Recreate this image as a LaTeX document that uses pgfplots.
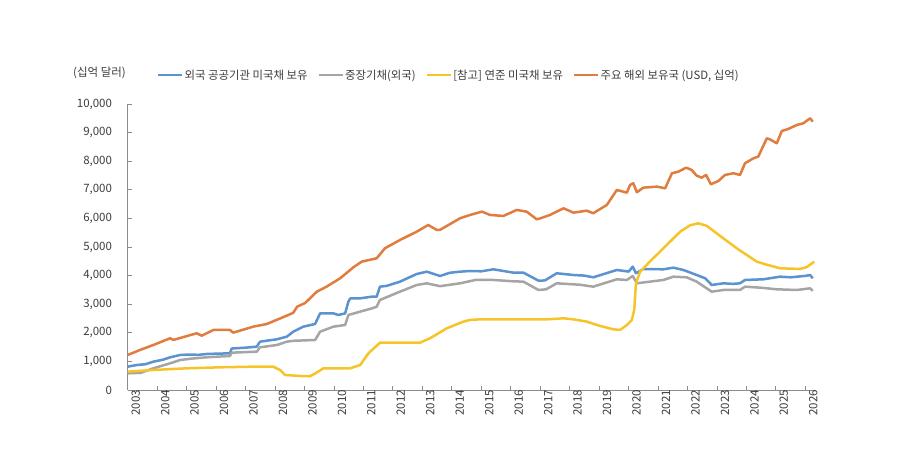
\documentclass[border=0pt]{standalone}
\usepackage{fontspec}
\setmainfont{Noto Sans CJK KR}
\usepackage{pgfplots}
\pgfplotsset{compat=1.18}
\definecolor{cblue}{RGB}{91,146,208}
\definecolor{cgray}{RGB}{165,165,165}
\definecolor{cyellow}{RGB}{245,196,40}
\definecolor{corange}{RGB}{224,125,62}
\definecolor{axisgray}{RGB}{140,140,140}
\definecolor{textgray}{RGB}{60,60,60}
\begin{document}
\begin{tikzpicture}
\useasboundingbox (0,0) rectangle (900pt,470pt);
\node[anchor=west, inner sep=0pt, text=textgray, font=\fontsize{11.5}{13}\selectfont] at (73pt,397pt) {(십억 달러)};
\begin{axis}[
  at={(127.7pt,80pt)}, anchor=south west,
  scale only axis, width=688.3pt, height=286pt,
  xmin=2003, xmax=2026.36, ymin=0, ymax=10000,
  axis lines=left,
  axis line style={-, draw=axisgray, line width=0.8pt},
  tick style={draw=axisgray, line width=0.8pt},
  tick align=inside, major tick length=4pt,
  xtick={2003,2004,...,2026},
  ytick={0,1000,...,10000},
  scaled y ticks=false, scaled x ticks=false,
  /pgf/number format/assume math mode=true,
  yticklabel style={/pgf/number format/1000 sep={,}, anchor=east, inner sep=0pt, xshift=-15.5pt, font=\fontsize{11.5}{12}\selectfont, text=textgray},
  xticklabel style={/pgf/number format/1000 sep={}, rotate=90, anchor=east, inner sep=0pt, yshift=-8pt, font=\fontsize{11.5}{12}\selectfont, text=textgray},
  every axis plot/.append style={line width=2.5pt, line join=round},
  legend columns=4,
  legend image code/.code={\draw[#1] (0pt,0pt) -- (24pt,0pt);},
  legend style={at={(0.0425,1.101)}, anchor=west, draw=none, fill=none, inner sep=0pt,
    font=\fontsize{11.4}{13}\selectfont, text=textgray,
    nodes={inner sep=1pt},
    /tikz/every even column/.append style={column sep=9pt}},
]
\addplot[cblue] coordinates {
(2003.00,816) (2003.31,874) (2003.60,900) (2003.87,990) (2004.20,1060) (2004.44,1143) (2004.78,1224) (2005.10,1240) (2005.40,1230) (2005.68,1259) (2006.00,1270) (2006.47,1282) (2006.53,1450)
(2007.00,1480) (2007.38,1515) (2007.49,1690) (2008.06,1772) (2008.40,1865) (2008.62,2040) (2008.96,2214) (2009.36,2308) (2009.53,2680)
(2009.98,2680) (2010.15,2623) (2010.38,2680) (2010.49,3088) (2010.55,3200) (2010.89,3205) (2011.28,3263) (2011.45,3263) (2011.56,3613)
(2011.79,3640) (2012.24,3788) (2012.81,4056) (2013.15,4137) (2013.60,3987) (2013.94,4100) (2014.28,4137) (2014.62,4161) (2015.00,4150) (2015.41,4220)
(2016.09,4103) (2016.43,4103) (2016.94,3823) (2017.16,3830) (2017.56,4081) (2018.13,4021) (2018.50,4000) (2018.80,3940) (2019.30,4100) (2019.60,4196)
(2020.00,4140) (2020.14,4313) (2020.25,4081) (2020.50,4231) (2021.18,4220) (2021.52,4277) (2021.86,4196) (2022.31,4021) (2022.60,3906)
(2022.82,3672) (2023.22,3730) (2023.55,3710) (2023.78,3731) (2023.95,3847) (2024.57,3870) (2025.14,3962) (2025.50,3940) (2026.00,3990) (2026.16,4021) (2026.25,3905)
};
\addlegendentry{외국 공공기관 미국채 보유}
\addplot[cgray] coordinates {
(2003.00,583) (2003.44,600) (2003.87,758) (2004.44,933) (2004.78,1049) (2005.20,1100) (2005.68,1143) (2006.47,1189) (2006.53,1305) (2007.38,1340) (2007.49,1492)
(2008.06,1573) (2008.40,1690) (2008.62,1720) (2009.36,1748) (2009.53,2040) (2009.98,2214) (2010.38,2273) (2010.49,2623) (2010.89,2740)
(2011.30,2857) (2011.45,2913) (2011.56,3147) (2012.24,3438) (2012.81,3672) (2013.15,3730) (2013.60,3630) (2014.28,3730) (2014.80,3847)
(2015.41,3847) (2016.10,3800) (2016.43,3788) (2016.94,3497) (2017.20,3520) (2017.56,3730) (2018.35,3680) (2018.80,3613) (2019.60,3870)
(2019.94,3847) (2020.14,3987) (2020.28,3731) (2021.18,3847) (2021.52,3962) (2021.97,3940) (2022.31,3788) (2022.82,3438) (2023.22,3497)
(2023.78,3497) (2023.95,3613) (2024.57,3570) (2025.03,3520) (2025.71,3497) (2026.16,3555) (2026.25,3462)
};
\addlegendentry{중장기채(외국)}
\addplot[cyellow] coordinates {
(2003.00,641) (2003.87,700) (2005.00,758) (2006.13,793) (2007.26,816) (2007.94,816) (2008.17,700) (2008.34,525) (2008.85,490) (2009.19,480)
(2009.40,600) (2009.64,758) (2010.55,758) (2010.89,874) (2011.17,1282) (2011.56,1655) (2012.92,1655) (2013.26,1808) (2013.83,2157) (2014.39,2390)
(2014.62,2450) (2014.96,2470) (2017.22,2470) (2017.79,2506) (2018.13,2470) (2018.58,2390) (2019.03,2240) (2019.48,2122) (2019.71,2100)
(2019.94,2272) (2020.11,2450) (2020.19,2798) (2020.25,3730) (2020.39,4137) (2020.73,4500) (2021.18,4955) (2021.75,5536) (2022.09,5760)
(2022.37,5828) (2022.65,5740) (2022.99,5478) (2023.67,4955) (2024.35,4487) (2024.69,4380) (2025.14,4256) (2025.82,4231) (2026.05,4300) (2026.30,4487)
};
\addlegendentry{[참고] 연준 미국채 보유}
\addplot[corange] coordinates {
(2003.00,1224) (2003.42,1400) (2003.87,1574) (2004.44,1808) (2004.55,1750) (2005.34,1983) (2005.51,1900) (2005.91,2098) (2006.47,2098) (2006.58,2005)
(2007.26,2214) (2007.72,2308) (2008.17,2500) (2008.45,2623) (2008.62,2700) (2008.75,2913) (2009.02,3040) (2009.42,3438) (2009.75,3613)
(2010.21,3905) (2010.66,4290) (2010.94,4487) (2011.45,4605) (2011.73,4955) (2012.24,5245) (2012.81,5536) (2013.20,5770) (2013.49,5595)
(2013.60,5600) (2014.28,6004) (2014.62,6120) (2015.02,6236) (2015.30,6120) (2015.75,6085) (2016.20,6295) (2016.54,6236) (2016.88,5969)
(2017.00,6000) (2017.33,6120) (2017.79,6353) (2018.13,6200) (2018.58,6270) (2018.80,6180) (2019.26,6470) (2019.60,6994) (2019.94,6900)
(2020.05,7169) (2020.16,7228) (2020.28,6913) (2020.50,7075) (2020.96,7110) (2021.24,7052) (2021.47,7578) (2021.69,7634) (2021.95,7774)
(2022.14,7693) (2022.31,7494) (2022.48,7424) (2022.63,7519) (2022.79,7193) (2023.05,7309) (2023.27,7519) (2023.56,7578) (2023.78,7519)
(2023.95,7928) (2024.24,8103) (2024.40,8159) (2024.69,8801) (2024.80,8760) (2025.03,8627) (2025.20,9057) (2025.42,9127) (2025.71,9267)
(2025.93,9326) (2026.16,9501) (2026.25,9383)
};
\addlegendentry{주요 해외 보유국 (USD, 십억)}
\end{axis}
\end{tikzpicture}
\end{document}
